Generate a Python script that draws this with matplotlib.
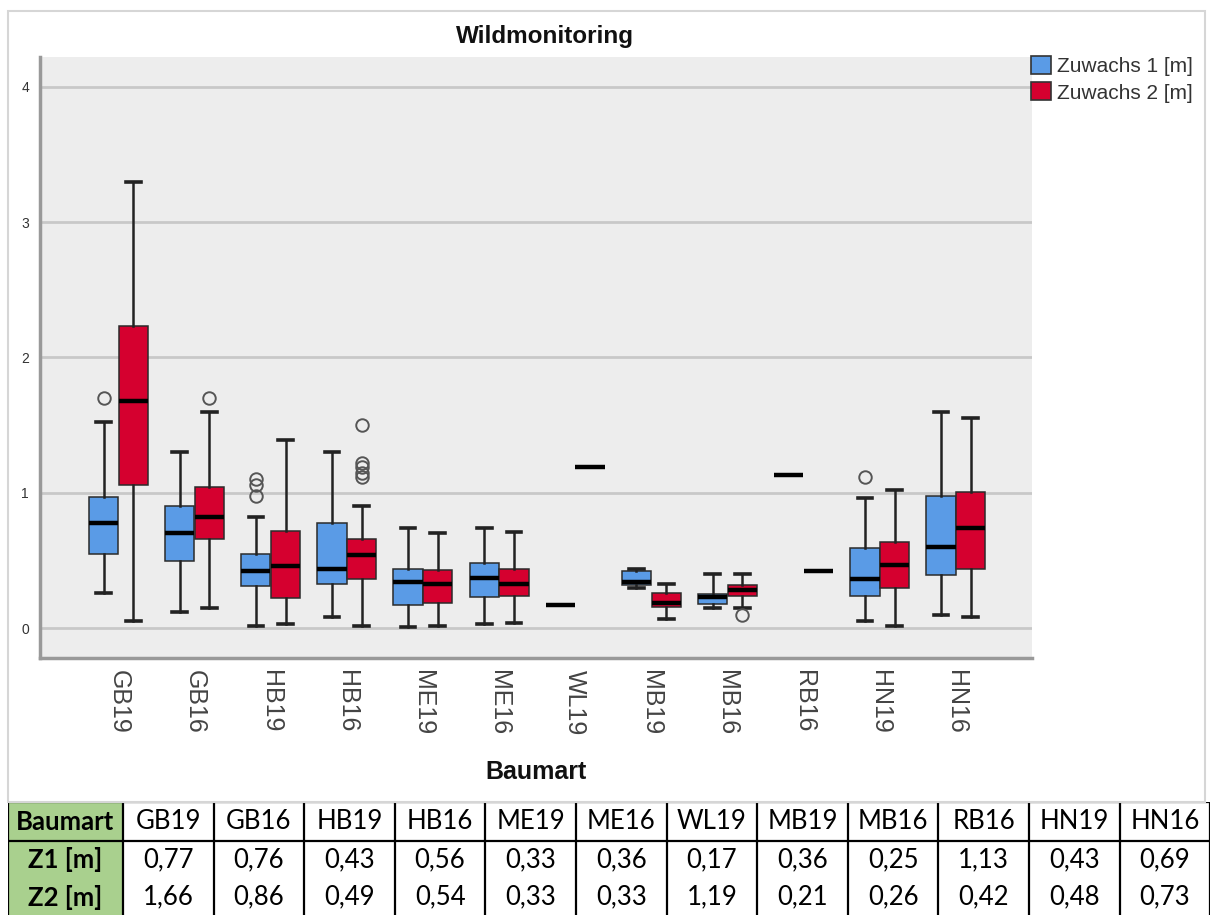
import matplotlib.pyplot as plt
from matplotlib.patches import Patch, Rectangle
from matplotlib.lines import Line2D

plt.rcParams['font.family'] = ['Liberation Sans', 'DejaVu Sans']

categories = ["GB19", "GB16", "HB19", "HB16", "ME19", "ME16",
              "WL19", "MB19", "MB16", "RB16", "HN19", "HN16"]

# Zuwachs 1 [m]: whisker ends, quartiles, median and outliers per Baumart
z1_low = [0.26, 0.12, 0.02, 0.08, 0.01, 0.03, 0.17, 0.30, 0.15, 1.13, 0.05, 0.10]
z1_q1 = [0.55, 0.50, 0.31, 0.33, 0.17, 0.23, 0.17, 0.32, 0.18, 1.13, 0.24, 0.39]
z1_med = [0.78, 0.70, 0.42, 0.44, 0.34, 0.37, 0.17, 0.34, 0.23, 1.13, 0.36, 0.60]
z1_q3 = [0.97, 0.90, 0.55, 0.78, 0.44, 0.48, 0.17, 0.42, 0.25, 1.13, 0.59, 0.98]
z1_high = [1.52, 1.30, 0.82, 1.30, 0.74, 0.74, 0.17, 0.44, 0.40, 1.13, 0.96, 1.60]
z1_out = [[1.70], [], [0.98, 1.06, 1.10], [], [], [], [], [], [], [], [1.12], []]

# Zuwachs 2 [m]
z2_low = [0.05, 0.15, 0.03, 0.02, 0.02, 0.04, 1.19, 0.07, 0.15, 0.42, 0.02, 0.08]
z2_q1 = [1.06, 0.66, 0.22, 0.36, 0.19, 0.24, 1.19, 0.16, 0.24, 0.42, 0.30, 0.44]
z2_med = [1.68, 0.82, 0.46, 0.54, 0.33, 0.33, 1.19, 0.19, 0.28, 0.42, 0.47, 0.74]
z2_q3 = [2.23, 1.04, 0.72, 0.66, 0.43, 0.44, 1.19, 0.26, 0.32, 0.42, 0.64, 1.01]
z2_high = [3.30, 1.60, 1.39, 0.90, 0.70, 0.71, 1.19, 0.33, 0.40, 0.42, 1.02, 1.55]
z2_out = [[], [1.70], [], [1.12, 1.15, 1.19, 1.22, 1.50], [], [], [], [], [0.10], [], [], []]

# mean growth per Baumart for the table below the chart
z1_mean = [0.77, 0.76, 0.43, 0.56, 0.33, 0.36, 0.17, 0.36, 0.25, 1.13, 0.43, 0.69]
z2_mean = [1.66, 0.86, 0.49, 0.54, 0.33, 0.33, 1.19, 0.21, 0.26, 0.42, 0.48, 0.73]

BLUE = "#5a9be6"
RED = "#d5002f"
W, H = 1210, 915


def make_stats(low, q1, med, q3, high, out):
    return [dict(whislo=a, q1=b, med=c, q3=d, whishi=e, fliers=f)
            for a, b, c, d, e, f in zip(low, q1, med, q3, high, out)]


def px(x0, y0, x1, y1):
    """figure rect from pixel box (top-left origin)"""
    return [x0 / W, 1 - y1 / H, (x1 - x0) / W, (y1 - y0) / H]


fig = plt.figure(figsize=(W / 100, H / 100), dpi=100)

# light frame round the chart part
fig.patches.append(Rectangle((8 / W, 1 - 802 / H), 1197 / W, 791 / H,
                             transform=fig.transFigure, fill=False,
                             edgecolor="#d6d6d6", linewidth=1.5))

ax = fig.add_axes(px(40, 57, 1032, 658))
ax.set_facecolor("#ededed")

pos = list(range(len(categories)))
off, bw = 0.195, 0.385
common = dict(widths=bw, patch_artist=True, capwidths=bw / 2,
              medianprops=dict(color="black", linewidth=3.2),
              whiskerprops=dict(color="#222222", linewidth=1.8),
              capprops=dict(color="#222222", linewidth=2.6),
              flierprops=dict(marker="o", markerfacecolor="none",
                              markeredgecolor="#555555", markersize=9,
                              markeredgewidth=1.4))
ax.bxp(make_stats(z1_low, z1_q1, z1_med, z1_q3, z1_high, z1_out),
       positions=[p - off for p in pos],
       boxprops=dict(facecolor=BLUE, edgecolor="#2b2b2b", linewidth=1.1),
       **common)
ax.bxp(make_stats(z2_low, z2_q1, z2_med, z2_q3, z2_high, z2_out),
       positions=[p + off for p in pos],
       boxprops=dict(facecolor=RED, edgecolor="#2b2b2b", linewidth=1.1),
       **common)

ax.set_xlim(-1.03, 12.0)
ax.set_ylim(-0.22, 4.22)
ax.set_xticks(pos)
ax.set_xticklabels(categories, rotation=-90, fontsize=18, color="#444444")
ax.set_yticks([0, 1, 2, 3, 4])
ax.tick_params(axis="x", length=0, pad=9)
ax.tick_params(axis="y", length=0, pad=8, labelsize=10, labelcolor="#333333")
ax.grid(axis="y", color="#c8c8c8", linewidth=2)
ax.set_axisbelow(True)
for side in ("top", "right"):
    ax.spines[side].set_visible(False)
for side in ("left", "bottom"):
    ax.spines[side].set_color("#999999")
    ax.spines[side].set_linewidth(2.5)

fig.text(545 / W, 1 - 36 / H, "Wildmonitoring", ha="center", va="center",
         fontsize=17.5, fontweight="bold", color="#111111")
fig.text(536 / W, 1 - 772 / H, "Baumart", ha="center", va="center",
         fontsize=18, fontweight="bold", color="#111111")

handles = [Patch(facecolor=BLUE, edgecolor="#333333", linewidth=1.2),
           Patch(facecolor=RED, edgecolor="#333333", linewidth=1.2)]
fig.legend(handles, ["Zuwachs 1 [m]", "Zuwachs 2 [m]"], loc="upper left",
           bbox_to_anchor=(1031 / W, 1 - 56 / H), bbox_transform=fig.transFigure,
           frameon=False, fontsize=15, handlelength=0.95, handleheight=0.95,
           handletextpad=0.3, labelspacing=0.3, borderpad=0, borderaxespad=0,
           labelcolor="#333333")

# summary table of the means
tax = fig.add_axes(px(8, 802, 1210, 920))
tax.set_xlim(0, 1202)
tax.set_ylim(118, 0)
tax.axis("off")
edges = [0, 115] + [115 + 90.6 * (i + 1) for i in range(len(categories))]
rows = [0, 39, 76, 118]
tax.add_patch(Rectangle((0, 0), 115, 118, facecolor="#a9d08e", edgecolor="none"))
for x in edges:
    tax.add_line(Line2D([x, x], [0, 118], color="black", linewidth=1.6))
for y in rows[:2] + [118]:
    tax.add_line(Line2D([0, 1202], [y, y], color="black", linewidth=1.6))

tfont = dict(family=["Lato", "DejaVu Sans"], fontsize=18.5, ha="center",
             va="center", color="black")
labels = [["Baumart"] + categories,
          ["Z1 [m]"] + [f"{v:.2f}".replace(".", ",") for v in z1_mean],
          ["Z2 [m]"] + [f"{v:.2f}".replace(".", ",") for v in z2_mean]]
row_mid = [19.5, 57.5, 95]
for r, row in enumerate(labels):
    for c, txt in enumerate(row):
        cx = (edges[c] + edges[c + 1]) / 2
        tax.text(cx, row_mid[r], txt, fontweight="bold" if c == 0 else "normal",
                 **tfont)

fig.savefig("out.png", dpi=100)
